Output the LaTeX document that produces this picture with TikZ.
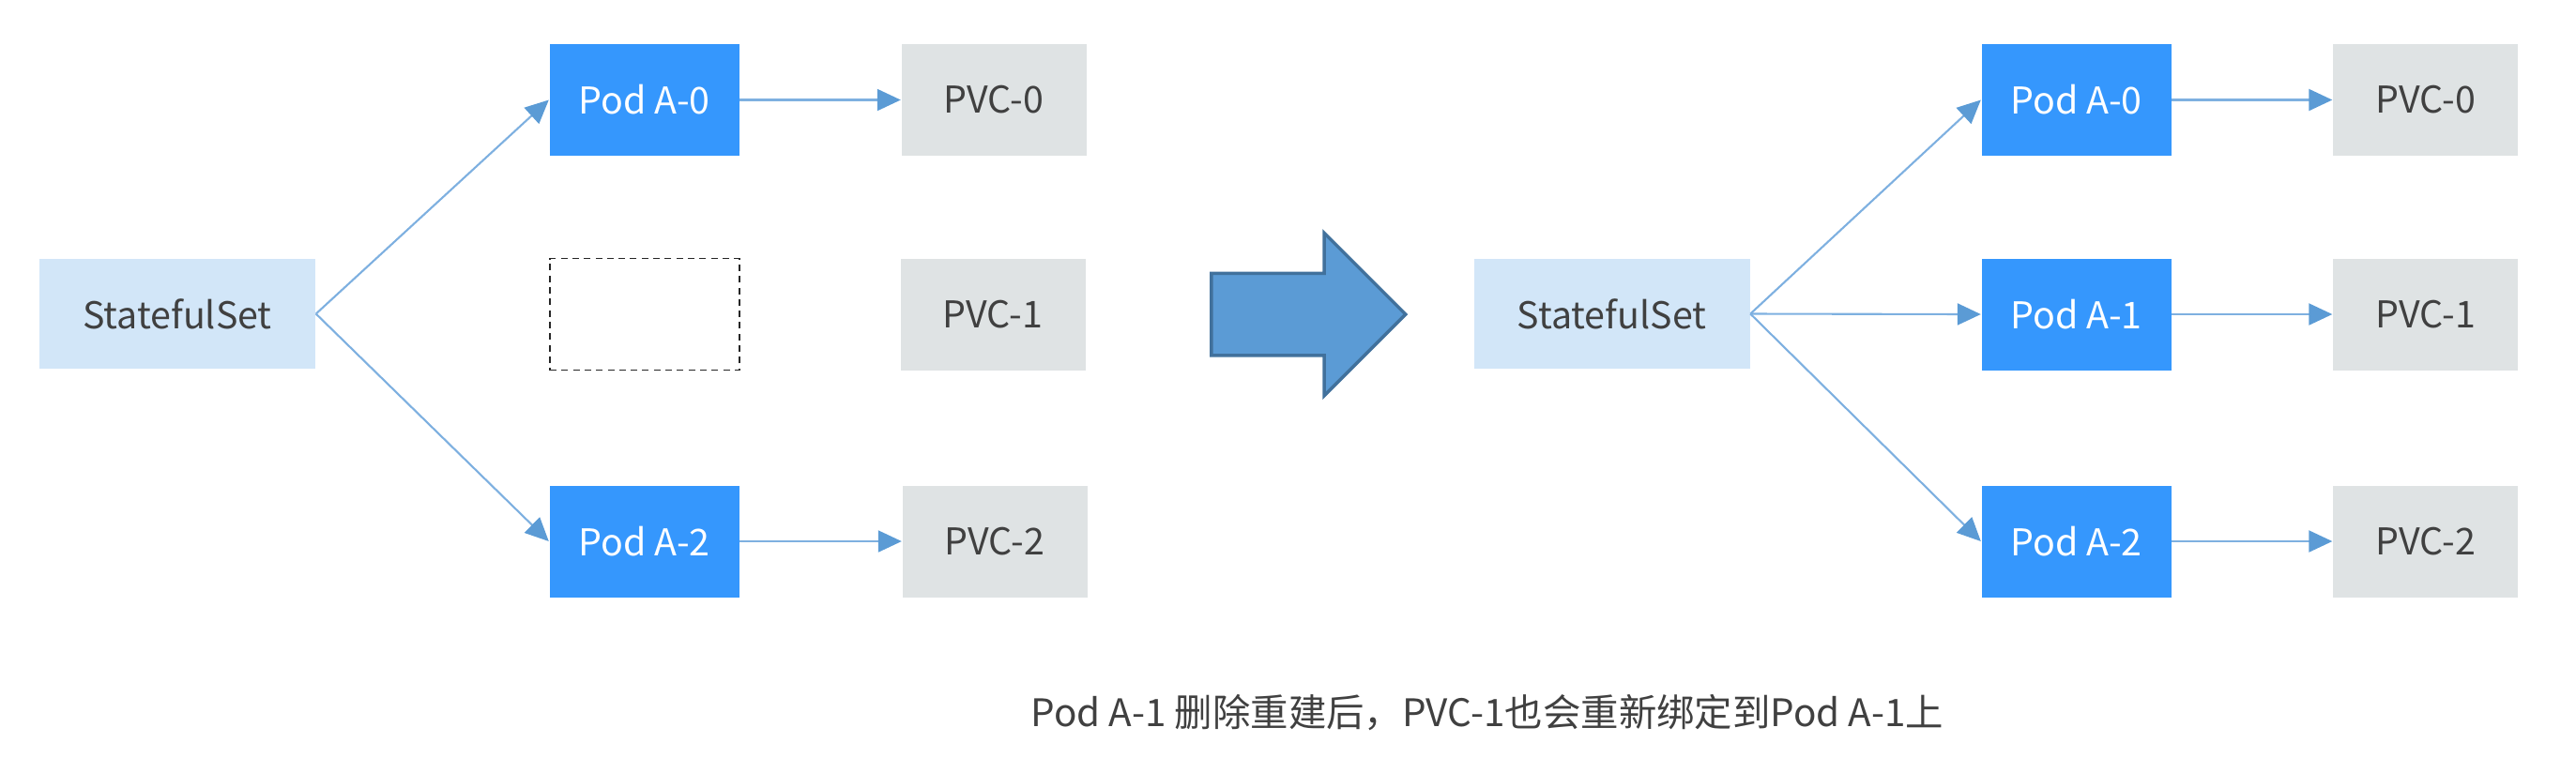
\documentclass[tikz,border=0pt]{standalone}
\usepackage{fontspec}
\setmainfont{Noto Sans CJK SC}
\usepackage{tikz}
\usetikzlibrary{shapes.arrows,arrows.meta,positioning}

\definecolor{podblue}{HTML}{3597FD}
\definecolor{stsblue}{HTML}{D2E6F8}
\definecolor{pvcgray}{HTML}{DFE3E4}
\definecolor{lineblue}{HTML}{7EB0E0}
\definecolor{tipblue}{HTML}{5B9BD5}
\definecolor{bigedge}{HTML}{41719C}
\definecolor{txtgray}{HTML}{404040}

\begin{document}
\begin{tikzpicture}[
  sts/.style={fill=stsblue, text=txtgray, minimum width=2.94cm, minimum height=1.17cm, inner sep=0pt, font=\fontsize{11.2}{13}\selectfont},
  pod/.style={fill=podblue, text=white, minimum width=2.02cm, minimum height=1.19cm, inner sep=0pt, font=\fontsize{11.2}{13}\selectfont},
  pvc/.style={fill=pvcgray, text=txtgray, minimum width=1.97cm, minimum height=1.19cm, inner sep=0pt, font=\fontsize{11.2}{13}\selectfont},
  ghost/.style={draw=black!85, dash pattern=on 2pt off 1.5pt, line width=0.5pt, minimum width=2.02cm, minimum height=1.19cm, inner sep=0pt},
  arrow/.style={-{Triangle[length=0.25cm, width=0.23cm, color=tipblue]}, draw=lineblue, line width=0.6pt},
  bigarrow/.style={single arrow, draw=bigedge, fill=tipblue, line width=1pt, minimum height=2.07cm, inner xsep=0pt, inner ysep=0.42cm, single arrow head extend=0.43cm}
]
\useasboundingbox (0,0) rectangle (27.45,-8.07);

% Antes
\node[sts] (sts1) at (1.89,-3.345) {StatefulSet};
\node[pod] (poda0) at (6.865,-1.065) {Pod A-0};
\node[ghost] (podgone) at (6.87,-3.35) {};
\node[pod] (poda2) at (6.865,-5.77) {Pod A-2};
\node[pvc] (pvc0) at (10.59,-1.065) {PVC-0};
\node[pvc] (pvc1) at (10.58,-3.35) {PVC-1};
\node[pvc] (pvc2) at (10.60,-5.77) {PVC-2};

% Flecha grande
\node[bigarrow, anchor=tail] (paso) at (12.89,-3.35) {};

% Despues
\node[sts] (sts2) at (17.175,-3.345) {StatefulSet};
\node[pod] (podb0) at (22.125,-1.065) {Pod A-0};
\node[pod] (podb1) at (22.125,-3.35) {Pod A-1};
\node[pod] (podb2) at (22.125,-5.77) {Pod A-2};
\node[pvc] (pvcb0) at (25.845,-1.065) {PVC-0};
\node[pvc] (pvcb1) at (25.845,-3.35) {PVC-1};
\node[pvc] (pvcb2) at (25.845,-5.77) {PVC-2};

% Texto
\node[text=txtgray, font=\fontsize{11.5}{14}\selectfont] (nota) at (15.85,-7.6) {Pod A-1 删除重建后，PVC-1也会重新绑定到Pod A-1上};

% Flechas
\draw[arrow] (sts1.east) -- (poda0.west);
\draw[arrow] (sts1.east) -- (poda2.west);
\draw[arrow] (poda0) -- (pvc0);
\draw[arrow] (poda2) -- (pvc2);
\draw[arrow] (sts2.east) -- (podb0.west);
\draw[arrow] (sts2.east) -- (podb1.west);
\draw[arrow] (sts2.east) -- (podb2.west);
\draw[arrow] (podb0) -- (pvcb0);
\draw[arrow] (podb1) -- (pvcb1);
\draw[arrow] (podb2) -- (pvcb2);
\end{tikzpicture}
\end{document}
